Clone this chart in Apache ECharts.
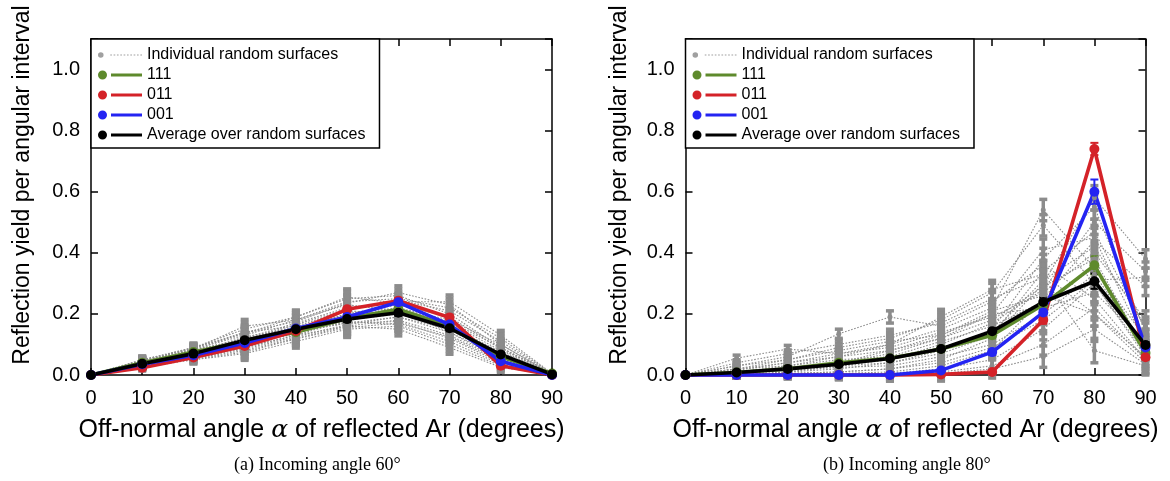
<!DOCTYPE html>
<html><head><meta charset="utf-8">
<script src="https://cdn.jsdelivr.net/npm/echarts@6/dist/echarts.min.js"></script>
<style>html,body{margin:0;padding:0;background:#fff}#c{width:1170px;height:481px}</style>
</head><body><div id="c"></div>
<script>
// ---------- data ----------
const angles = [0, 10, 20, 30, 40, 50, 60, 70, 80, 90];
const yTickLabels = ['0.0', '0.2', '0.4', '0.6', '0.8', '1.0'];
const seriesNames = ['Individual random surfaces', '111', '011', '001', 'Average over random surfaces'];
const captions = ['(a) Incoming angle 60°', '(b) Incoming angle 80°'];

// (a) incoming 60°
const s111_60 = [0, 0.040, 0.075, 0.110, 0.140, 0.185, 0.215, 0.160, 0.060, 0.005];
const s011_60 = [0, 0.024, 0.057, 0.095, 0.144, 0.215, 0.243, 0.188, 0.030, 0.000];
const s001_60 = [0, 0.035, 0.065, 0.105, 0.152, 0.190, 0.238, 0.165, 0.045, 0.000];
const avg_60  = [0, 0.037, 0.070, 0.114, 0.150, 0.183, 0.204, 0.153, 0.067, 0.002];
const errMain_60 = [0, 0.004, 0.006, 0.008, 0.008, 0.010, 0.010, 0.010, 0.008, 0.002];
const gray_60 = [
  [0, 0.050, 0.090, 0.150, 0.190, 0.250, 0.260, 0.200, 0.090, 0.003],
  [0, 0.045, 0.085, 0.130, 0.180, 0.240, 0.250, 0.220, 0.120, 0.004],
  [0, 0.040, 0.080, 0.120, 0.170, 0.220, 0.240, 0.240, 0.130, 0.005],
  [0, 0.035, 0.070, 0.100, 0.150, 0.200, 0.220, 0.180, 0.100, 0.003],
  [0, 0.030, 0.060, 0.090, 0.130, 0.180, 0.200, 0.160, 0.070, 0.002],
  [0, 0.030, 0.055, 0.080, 0.120, 0.160, 0.180, 0.130, 0.050, 0.002],
  [0, 0.025, 0.050, 0.070, 0.110, 0.150, 0.160, 0.100, 0.030, 0.001],
  [0, 0.040, 0.075, 0.110, 0.140, 0.170, 0.190, 0.140, 0.060, 0.003],
  [0, 0.035, 0.065, 0.100, 0.135, 0.190, 0.210, 0.170, 0.080, 0.002],
  [0, 0.045, 0.080, 0.140, 0.160, 0.210, 0.200, 0.150, 0.055, 0.003],
  [0, 0.030, 0.065, 0.095, 0.145, 0.170, 0.175, 0.120, 0.040, 0.002],
  [0, 0.040, 0.070, 0.125, 0.155, 0.200, 0.230, 0.190, 0.085, 0.004],
  [0, 0.050, 0.085, 0.160, 0.180, 0.230, 0.210, 0.140, 0.050, 0.002],
  [0, 0.028, 0.058, 0.085, 0.125, 0.165, 0.190, 0.150, 0.065, 0.003],
  [0, 0.038, 0.072, 0.105, 0.140, 0.175, 0.165, 0.110, 0.035, 0.001],
  [0, 0.042, 0.078, 0.115, 0.165, 0.215, 0.245, 0.210, 0.110, 0.004],
  [0, 0.033, 0.062, 0.090, 0.130, 0.160, 0.150, 0.090, 0.025, 0.001],
  [0, 0.048, 0.088, 0.140, 0.175, 0.235, 0.270, 0.230, 0.100, 0.003],
  [0, 0.036, 0.068, 0.102, 0.148, 0.185, 0.205, 0.160, 0.075, 0.002],
  [0, 0.044, 0.082, 0.118, 0.158, 0.195, 0.215, 0.175, 0.090, 0.003],
  [0, 0.027, 0.052, 0.075, 0.118, 0.155, 0.170, 0.125, 0.045, 0.002],
  [0, 0.046, 0.090, 0.135, 0.190, 0.255, 0.235, 0.165, 0.060, 0.002]
];
const grayErr_60 = [0, 0.012, 0.014, 0.022, 0.022, 0.027, 0.022, 0.022, 0.016, 0.003];

// (b) incoming 80°
const s111_80 = [0, 0.008, 0.020, 0.040, 0.055, 0.085, 0.130, 0.230, 0.359, 0.072];
const s011_80 = [0, 0.000, 0.000, 0.000, 0.000, 0.002, 0.010, 0.180, 0.740, 0.058];
const s001_80 = [0, 0.000, 0.000, 0.000, 0.000, 0.015, 0.075, 0.205, 0.600, 0.090];
const avg_80  = [0, 0.008, 0.020, 0.035, 0.054, 0.085, 0.143, 0.239, 0.307, 0.098];
const err111_80 = [0, 0.002, 0.003, 0.005, 0.005, 0.008, 0.010, 0.015, 0.030, 0.010];
const err011_80 = [0, 0.000, 0.000, 0.000, 0.000, 0.002, 0.004, 0.012, 0.020, 0.008];
const err001_80 = [0, 0.000, 0.000, 0.000, 0.000, 0.004, 0.010, 0.012, 0.040, 0.010];
const errAvg_80 = [0, 0.002, 0.003, 0.004, 0.005, 0.007, 0.010, 0.015, 0.025, 0.010];
const gray_80 = [
  [0, 0.010, 0.030, 0.060, 0.100, 0.150, 0.220, 0.540, 0.350, 0.080],
  [0, 0.020, 0.050, 0.090, 0.120, 0.180, 0.270, 0.490, 0.300, 0.060],
  [0, 0.005, 0.020, 0.040, 0.070, 0.120, 0.200, 0.410, 0.450, 0.100],
  [0, 0.000, 0.010, 0.020, 0.040, 0.080, 0.150, 0.380, 0.550, 0.140],
  [0, 0.030, 0.060, 0.135, 0.190, 0.160, 0.240, 0.360, 0.250, 0.050],
  [0, 0.055, 0.085, 0.070, 0.100, 0.190, 0.280, 0.330, 0.200, 0.040],
  [0, 0.000, 0.005, 0.010, 0.020, 0.050, 0.120, 0.300, 0.580, 0.380],
  [0, 0.010, 0.020, 0.030, 0.050, 0.100, 0.170, 0.280, 0.500, 0.340],
  [0, 0.000, 0.000, 0.005, 0.010, 0.030, 0.080, 0.250, 0.440, 0.290],
  [0, 0.015, 0.040, 0.070, 0.090, 0.140, 0.190, 0.270, 0.400, 0.180],
  [0, 0.020, 0.030, 0.050, 0.060, 0.110, 0.160, 0.240, 0.350, 0.120],
  [0, 0.005, 0.015, 0.025, 0.030, 0.060, 0.100, 0.200, 0.330, 0.090],
  [0, 0.000, 0.000, 0.000, 0.005, 0.020, 0.050, 0.150, 0.300, 0.070],
  [0, 0.000, 0.000, 0.000, 0.000, 0.010, 0.030, 0.100, 0.220, 0.050],
  [0, 0.000, 0.000, 0.000, 0.000, 0.005, 0.020, 0.060, 0.150, 0.035],
  [0, 0.040, 0.070, 0.100, 0.130, 0.170, 0.250, 0.320, 0.080, 0.030],
  [0, 0.030, 0.050, 0.080, 0.110, 0.130, 0.210, 0.260, 0.200, 0.060],
  [0, 0.010, 0.020, 0.040, 0.080, 0.130, 0.200, 0.220, 0.270, 0.110],
  [0, 0.000, 0.010, 0.030, 0.040, 0.070, 0.130, 0.340, 0.470, 0.150],
  [0, 0.020, 0.040, 0.060, 0.080, 0.120, 0.180, 0.290, 0.380, 0.080],
  [0, 0.000, 0.005, 0.010, 0.020, 0.040, 0.090, 0.180, 0.310, 0.320],
  [0, 0.010, 0.020, 0.035, 0.055, 0.090, 0.140, 0.310, 0.420, 0.160]
];
const grayErr_80 = [0, 0.010, 0.012, 0.015, 0.020, 0.025, 0.030, 0.035, 0.040, 0.030];

// ---------- styling ----------
const FONT = 'Liberation Sans, Arial, Helvetica, sans-serif';
const C_GRAY = '#8c8c8c', C_GREEN = '#5e8a2c', C_RED = '#d42228', C_BLUE = '#2424f2', C_BLACK = '#000000';

function errRender(color, lw, cap) {
  return function (params, api) {
    const x = api.value(0), lo = api.value(1), hi = api.value(2);
    if (!(hi - lo > 0)) return null;
    const p1 = api.coord([x, lo]), p2 = api.coord([x, hi]);
    const st = { stroke: color, lineWidth: lw };
    return { type: 'group', children: [
      { type: 'line', shape: { x1: p1[0], y1: p1[1], x2: p2[0], y2: p2[1] }, style: st },
      { type: 'line', shape: { x1: p1[0] - cap, y1: p1[1], x2: p1[0] + cap, y2: p1[1] }, style: st },
      { type: 'line', shape: { x1: p2[0] - cap, y1: p2[1], x2: p2[0] + cap, y2: p2[1] }, style: st }
    ]};
  };
}
function errData(vals, errs) {
  return angles.map((a, i) => [a, vals[i] - errs[i], vals[i] + errs[i]]);
}
function pts(vals) { return angles.map((a, i) => [a, vals[i]]); }

function panelSeries(ax, grays, grayErr, mains) {
  const out = [];
  const grayErrData = [];
  grays.forEach(g => errData(g, grayErr).forEach(d => grayErrData.push(d)));
  out.push({ type: 'custom', xAxisIndex: ax, yAxisIndex: ax, renderItem: errRender(C_GRAY, 3.5, 4),
    encode: { x: 0, y: [1, 2] }, data: grayErrData, silent: true, clip: false });
  grays.forEach(g => out.push({
    type: 'line', name: seriesNames[0], xAxisIndex: ax, yAxisIndex: ax, data: pts(g),
    symbol: 'circle', symbolSize: 5, clip: false, silent: true,
    lineStyle: { color: C_GRAY, width: 1.1, type: [1.6, 1.6] }, itemStyle: { color: C_GRAY }
  }));
  mains.forEach(m => {
    out.push({ type: 'custom', xAxisIndex: ax, yAxisIndex: ax, renderItem: errRender(m.color, 2, 4),
      encode: { x: 0, y: [1, 2] }, data: errData(m.vals, m.err), silent: true, clip: false });
    out.push({ type: 'line', name: m.name, xAxisIndex: ax, yAxisIndex: ax, data: pts(m.vals),
      symbol: 'circle', symbolSize: 10, clip: false, silent: true,
      lineStyle: { color: m.color, width: 3.6 }, itemStyle: { color: m.color } });
  });
  return out;
}

const series = [].concat(
  panelSeries(0, gray_60, grayErr_60, [
    { name: '111', vals: s111_60, err: errMain_60, color: C_GREEN },
    { name: '011', vals: s011_60, err: errMain_60, color: C_RED },
    { name: '001', vals: s001_60, err: errMain_60, color: C_BLUE },
    { name: 'Average over random surfaces', vals: avg_60, err: errMain_60, color: C_BLACK }
  ]),
  panelSeries(2, gray_80, grayErr_80, [
    { name: '111', vals: s111_80, err: err111_80, color: C_GREEN },
    { name: '011', vals: s011_80, err: err011_80, color: C_RED },
    { name: '001', vals: s001_80, err: err001_80, color: C_BLUE },
    { name: 'Average over random surfaces', vals: avg_80, err: errAvg_80, color: C_BLACK }
  ])
);

const axLine = { show: true, onZero: false, lineStyle: { color: '#000', width: 1.5 } };
const axTick = { show: true, inside: true, length: 7, lineStyle: { color: '#000', width: 1.5 } };

function xAxes(grid) {
  return [
    { gridIndex: grid, type: 'value', min: 0, max: 90, interval: 10, position: 'bottom',
      axisLine: axLine, axisTick: axTick, splitLine: { show: false },
      axisLabel: { fontSize: 20, color: '#000', fontFamily: FONT, margin: 13 },
      name: 'Off-normal angle {a|α} of reflected Ar (degrees)', nameLocation: 'middle', nameGap: 43,
      nameTextStyle: { fontSize: 25, color: '#000', fontFamily: FONT,
        rich: { a: { fontSize: 25, fontStyle: 'italic', fontFamily: 'DejaVu Serif, Liberation Serif, serif', color: '#000' } } } },
    { gridIndex: grid, type: 'value', min: 0, max: 90, interval: 10, position: 'top',
      axisLine: axLine, axisTick: axTick, splitLine: { show: false }, axisLabel: { show: false } }
  ];
}
function yAxes(grid, gap) {
  return [
    { gridIndex: grid, type: 'value', min: 0, max: 1.1, interval: 0.2, position: 'left',
      axisLine: axLine, axisTick: axTick, splitLine: { show: false },
      axisLabel: { fontSize: 20, color: '#000', fontFamily: FONT, margin: 11,
        formatter: v => { const i = Math.round(v / 0.2); return (Math.abs(v - i * 0.2) < 1e-6 && yTickLabels[i]) ? yTickLabels[i] : ''; } },
      name: 'Reflection yield per angular interval', nameLocation: 'middle', nameGap: gap,
      nameTextStyle: { fontSize: 23, color: '#000', fontFamily: FONT, padding: [0, 0, 0, 44] } },
    { gridIndex: grid, type: 'value', min: 0, max: 1.1, interval: 0.2, position: 'right',
      axisLine: axLine, axisTick: axTick, splitLine: { show: false }, axisLabel: { show: false } }
  ];
}

const iconMain = 'path://M0,6a4.5,4.5 0 1,0 9,0a4.5,4.5 0 1,0 -9,0Z M13,4.5L44,4.5L44,7.5L13,7.5Z';
let dashes = '';
for (let x = 13; x < 43; x += 3) dashes += ' M' + x + ',5.5h1.5v1h-1.5Z';
const iconGray = 'path://M2,6a2.5,2.5 0 1,0 5,0a2.5,2.5 0 1,0 -5,0Z' + dashes;

function legend(left) {
  return {
    left: left, top: 39, orient: 'vertical', itemWidth: 44, itemHeight: 9, itemGap: 4,
    padding: [8, 14, 5, 7], borderColor: '#000', borderWidth: 1.5, backgroundColor: '#fff',
    borderRadius: 0, selectedMode: false, symbolKeepAspect: true,
    textStyle: { fontSize: 16, lineHeight: 16, color: '#000', fontFamily: FONT },
    itemStyle: { borderWidth: 0 },
    data: [
      { name: seriesNames[0], icon: iconGray, itemStyle: { color: '#a0a0a0' } },
      { name: seriesNames[1], icon: iconMain },
      { name: seriesNames[2], icon: iconMain },
      { name: seriesNames[3], icon: iconMain },
      { name: seriesNames[4], icon: iconMain }
    ]
  };
}

const option = {
  animation: false,
  backgroundColor: '#fff',
  title: [
    { text: captions[0], left: 234, top: 456, textStyle: { fontFamily: 'Liberation Serif, Times New Roman, serif', fontSize: 18, fontWeight: 'normal', color: '#000' }, padding: 0 },
    { text: captions[1], left: 823, top: 456, textStyle: { fontFamily: 'Liberation Serif, Times New Roman, serif', fontSize: 18, fontWeight: 'normal', color: '#000' }, padding: 0 }
  ],
  grid: [
    { left: 91, top: 39, width: 461, height: 336, outerBoundsMode: 'none', containLabel: false },
    { left: 685.5, top: 39, width: 460, height: 336, outerBoundsMode: 'none', containLabel: false }
  ],
  xAxis: xAxes(0).concat(xAxes(1)),
  yAxis: yAxes(0, 57).concat(yAxes(1, 54)),
  legend: [legend(91), legend(685.5)],
  series: series
};

const chart = echarts.init(document.getElementById('c'), null, { renderer: 'canvas' });
chart.setOption(option);
</script>
</body></html>
